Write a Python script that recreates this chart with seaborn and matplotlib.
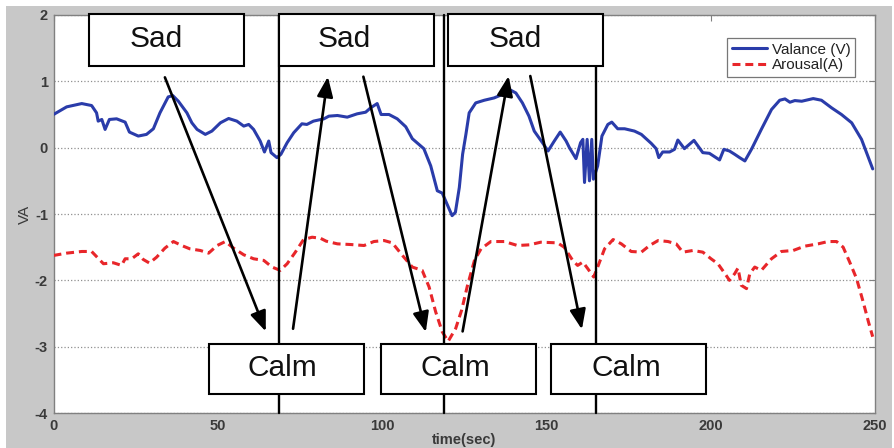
import numpy as np
import pandas as pd
import matplotlib.pyplot as plt
import seaborn as sns
from matplotlib.patches import Rectangle

# === Données ===
t_valence = [0, 4.0, 8.6, 11.6, 13.1, 13.6, 14.7, 15.7, 17.0, 19.2, 21.8, 23.1, 25.8, 28.3, 30.4,
             32.4, 34.9, 36.3, 38.0, 40.6, 42.1, 43.7, 46.2, 48.2, 50.8, 53.3, 55.8, 57.9, 59.4,
             60.9, 62.9, 64.2, 65.5, 66.2, 68.0, 69.2, 71.1, 73.1, 75.6, 77.1, 79.1, 82.3, 83.8,
             86.4, 89.4, 92.4, 95.0, 96.5, 98.5, 99.7, 102.1, 104.6, 107.2, 109.2, 112.7, 114.8,
             116.8, 118.3, 121.3, 122.3, 123.5, 124.5, 125.5, 126.5, 128.5, 131.1, 134.1, 137.2,
             139.2, 140.7, 142.7, 144.7, 146.3, 148.8, 150.5, 152.4, 154.2, 156.0, 157.0, 159.0,
             160.4, 161.1, 161.6, 162.4, 163.1, 163.8, 164.3, 165.6, 166.9, 168.7, 169.9, 171.7,
             173.8, 176.8, 178.9, 181.9, 183.4, 184.2, 185.4, 187.5, 189.0, 190.0, 192.0, 194.9,
             197.6, 199.6, 202.7, 204.0, 205.7, 207.3, 208.8, 210.4, 212.4, 215.4, 218.5, 221.0,
             222.6, 224.1, 225.6, 227.7, 231.2, 233.7, 236.8, 239.8, 242.9, 245.9, 249.3]
valence = [0.50, 0.615, 0.665, 0.635, 0.525, 0.40, 0.425, 0.275, 0.425, 0.435, 0.385, 0.235, 0.175,
           0.20, 0.285, 0.525, 0.765, 0.785, 0.70, 0.525, 0.375, 0.275, 0.20, 0.25, 0.375, 0.44,
           0.40, 0.325, 0.35, 0.275, 0.10, -0.065, 0.10, -0.075, -0.15, -0.10, 0.075, 0.225, 0.36,
           0.35, 0.40, 0.435, 0.475, 0.485, 0.46, 0.51, 0.535, 0.60, 0.665, 0.50, 0.50, 0.435,
           0.315, 0.135, -0.015, -0.275, -0.65, -0.685, -1.025, -0.975, -0.60, -0.10, 0.20, 0.525,
           0.675, 0.715, 0.75, 0.815, 0.865, 0.825, 0.675, 0.475, 0.25, 0.075, -0.05, 0.10, 0.235,
           0.10, 0.0, -0.165, 0.075, 0.125, -0.525, 0.125, -0.50, 0.125, -0.475, -0.275, 0.175,
           0.35, 0.385, 0.285, 0.285, 0.25, 0.20, 0.065, -0.015, -0.15, -0.065, -0.065, -0.025,
           0.115, -0.015, 0.11, -0.075, -0.085, -0.185, -0.025, -0.05, -0.10, -0.15, -0.20,
           -0.025, 0.275, 0.575, 0.715, 0.735, 0.685, 0.71, 0.70, 0.74, 0.715, 0.60, 0.50, 0.375,
           0.125, -0.32]

t_arousal = [0, 4.0, 8.6, 11.6, 15.2, 18.2, 20.7, 21.8, 23.8, 25.8, 27.3, 29.2, 31.4, 33.9, 36.5,
             39.0, 41.5, 44.7, 47.2, 49.8, 52.3, 54.8, 57.9, 60.9, 64.0, 66.5, 69.0, 71.1, 73.6,
             76.1, 78.7, 81.2, 83.0, 86.4, 90.4, 94.5, 97.5, 100.6, 103.1, 106.2, 109.2, 112.2,
             114.3, 116.3, 118.3, 120.1, 122.4, 124.2, 126.0, 128.1, 130.1, 133.1, 137.2, 141.2,
             144.8, 148.3, 153.4, 155.4, 158.0, 159.5, 161.1, 162.6, 164.4, 165.6, 167.7, 170.3,
             172.8, 175.8, 178.9, 181.4, 184.0, 187.0, 189.5, 191.5, 194.6, 197.6, 200.1, 202.2,
             204.7, 205.7, 207.3, 208.3, 209.3, 210.9, 211.9, 213.4, 215.4, 218.5, 221.5, 225.1,
             228.6, 232.7, 235.7, 238.3, 240.3, 242.3, 244.4, 246.4, 248.0, 249.3]
arousal = [-1.625, -1.59, -1.565, -1.565, -1.75, -1.735, -1.775, -1.675, -1.675, -1.60, -1.685,
           -1.74, -1.65, -1.515, -1.415, -1.475, -1.525, -1.55, -1.59, -1.475, -1.415, -1.515,
           -1.615, -1.675, -1.70, -1.80, -1.85, -1.75, -1.575, -1.385, -1.35, -1.365, -1.41,
           -1.45, -1.46, -1.475, -1.415, -1.40, -1.435, -1.625, -1.80, -1.85, -2.10, -2.475,
           -2.775, -2.92, -2.725, -2.45, -2.075, -1.70, -1.525, -1.415, -1.415, -1.475, -1.465,
           -1.425, -1.435, -1.50, -1.70, -1.775, -1.725, -1.825, -1.95, -1.80, -1.525, -1.385,
           -1.45, -1.565, -1.575, -1.475, -1.40, -1.415, -1.45, -1.575, -1.55, -1.575, -1.675,
           -1.75, -1.925, -2.00, -1.90, -1.815, -2.075, -2.125, -1.90, -1.80, -1.85, -1.675,
           -1.565, -1.55, -1.485, -1.45, -1.415, -1.415, -1.50, -1.725, -1.975, -2.325, -2.625,
           -2.85]

# limites des phases (sec)
phase_bounds = [68.5, 118.7, 165.0]

# boîtes d'annotation : (x gauche, x centre du texte)
sad_left = [10.8, 68.6, 120.0]
sad_text_x = [31.2, 88.4, 140.4]
calm_left = [47.3, 99.6, 151.4]
calm_text_x = [69.8, 122.2, 174.2]
box_width = 47.3

# flèches : (x départ, y départ, x arrivée, y arrivée)
arrows = [
    (33.9, 1.06, 64.6, -2.77),
    (72.9, -2.73, 83.5, 1.07),
    (94.3, 1.07, 113.3, -2.78),
    (124.5, -2.77, 138.5, 1.08),
    (145.1, 1.08, 160.8, -2.74),
]

df_v = pd.DataFrame({"time": t_valence, "VA": valence})
df_a = pd.DataFrame({"time": t_arousal, "VA": arousal})

# === Figure ===
sns.set_style("white")
plt.rcParams['font.family'] = ['Liberation Sans', 'DejaVu Sans']
plt.rcParams['axes.unicode_minus'] = False

fig = plt.figure(figsize=(8.94, 4.48), dpi=100)
fig.patch.set_facecolor("white")
fig.patches.append(Rectangle((6 / 894, 0), 886 / 894, 441.5 / 448, transform=fig.transFigure,
                             facecolor="#c8c8c8", edgecolor="none", zorder=-10))
ax = fig.add_axes([53.5 / 894, 35 / 448, 821.5 / 894, 398 / 448])
ax.set_facecolor("white")

sns.lineplot(data=df_v, x="time", y="VA", ax=ax, color="#2a3caa", linewidth=2.2,
             label="Valance (V)", zorder=3)
sns.lineplot(data=df_a, x="time", y="VA", ax=ax, color="#e8262a", linewidth=2.2,
             label="Arousal(A)", zorder=3)
ax.lines[1].set_dashes([2.6, 1.6])

ax.set_xlim(0, 250)
ax.set_ylim(-4, 2)
ax.set_xticks(range(0, 251, 50))
ax.set_yticks(range(-4, 3))
ax.yaxis.grid(True, linestyle=":", color="#909090", linewidth=0.9)
ax.xaxis.grid(False)
for s in ax.spines.values():
    s.set_color("#808080")
    s.set_linewidth(1.0)
ax.tick_params(direction="in", length=4, top=True, right=True, color="#808080",
               labelsize=10.5, labelcolor="#3a3a3a", pad=4)
for lab in ax.get_xticklabels() + ax.get_yticklabels():
    lab.set_fontweight("bold")
ax.set_xlabel("time(sec)", fontsize=10.5, color="#3a3a3a", fontweight="bold", labelpad=0)
ax.set_ylabel("VA", fontsize=11, color="#3a3a3a", labelpad=2)

# lignes de séparation des phases
for xb in phase_bounds:
    ax.plot([xb, xb], [-4, 2], color="black", linewidth=1.7, zorder=4, clip_on=False)

# boîtes Sad / Calm
for x0, xt in zip(sad_left, sad_text_x):
    ax.add_patch(Rectangle((x0, 1.23), box_width, 0.78, facecolor="white", edgecolor="black",
                           linewidth=1.5, zorder=5, clip_on=False))
    ax.text(xt, 1.52, "Sad", fontsize=21.5, ha="center", va="baseline", color="#111111", zorder=6)
for x0, xt in zip(calm_left, calm_text_x):
    ax.add_patch(Rectangle((x0, -3.72), box_width, 0.765, facecolor="white", edgecolor="black",
                           linewidth=1.5, zorder=5))
    ax.text(xt, -3.447, "Calm", fontsize=21.5, ha="center", va="baseline", color="#111111", zorder=6)

# flèches
for x1, y1, x2, y2 in arrows:
    ax.annotate("", xy=(x2, y2), xytext=(x1, y1),
                arrowprops=dict(arrowstyle="-|>,head_length=0.55,head_width=0.22", color="black",
                                lw=1.9, mutation_scale=22, shrinkA=0, shrinkB=0),
                zorder=7)

leg = ax.legend(loc="upper right", bbox_to_anchor=(0.9756, 0.942), borderaxespad=0,
                fontsize=11, frameon=True, fancybox=False, framealpha=1, edgecolor="#777777",
                handlelength=2.3, handletextpad=0.3, borderpad=0.3, labelspacing=0.1)
leg.get_frame().set_linewidth(0.9)
leg.set_zorder(8)
for txt in leg.get_texts():
    txt.set_color("#222222")

fig.savefig("out.png", dpi=100)
